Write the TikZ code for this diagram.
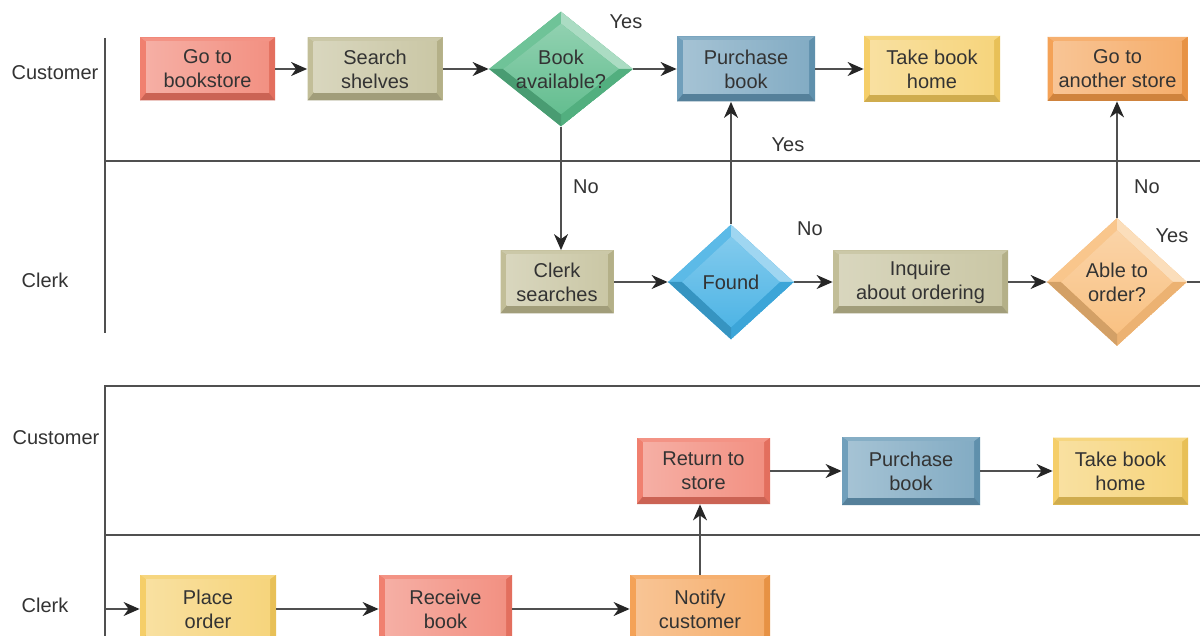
\documentclass[tikz,border=0pt]{standalone}
\usepackage{fontspec}
\setmainfont{Liberation Sans}
\usetikzlibrary{shapes.geometric,arrows.meta}
\definecolor{cSal}{HTML}{EF7563}
\definecolor{cKha}{HTML}{BDB98F}
\definecolor{cGrn}{HTML}{56B886}
\definecolor{cStl}{HTML}{6497B5}
\definecolor{cYel}{HTML}{F4CA5C}
\definecolor{cOrg}{HTML}{F39A48}
\definecolor{cSky}{HTML}{3FAEE3}
\definecolor{cLor}{HTML}{F8BC78}
\definecolor{cTxt}{HTML}{333333}
\definecolor{cLine}{HTML}{505050}
\newcommand{\boxfont}{\fontsize{10}{12}\selectfont}
\tikzset{
  bx/.style={rectangle, fill=#1, inner sep=0pt, align=center, font=\boxfont, text=cTxt,
    path picture={
      \coordinate (Q1) at (path picture bounding box.north west);
      \coordinate (Q2) at (path picture bounding box.north east);
      \coordinate (Q3) at (path picture bounding box.south east);
      \coordinate (Q4) at (path picture bounding box.south west);
      \coordinate (R1) at ([shift={(3pt,-2.2pt)}]Q1);
      \coordinate (R2) at ([shift={(-3pt,-2.2pt)}]Q2);
      \coordinate (R3) at ([shift={(-3pt,3.8pt)}]Q3);
      \coordinate (R4) at ([shift={(3pt,3.8pt)}]Q4);
      \fill[#1!78!white] (Q1)--(Q2)--(R2)--(R1)--cycle;
      \fill[#1!92!white] (Q1)--(R1)--(R4)--(Q4)--cycle;
      \fill[#1!95!black] (Q2)--(Q3)--(R3)--(R2)--cycle;
      \fill[#1!85!black] (Q4)--(R4)--(R3)--(Q3)--cycle;
      \shade[left color=#1!58!white, right color=#1!80!white] (R1) rectangle (R3);
    }},
  dm/.style={diamond, fill=#1, inner sep=0pt, align=center, font=\boxfont, text=cTxt,
    path picture={
      \coordinate (D1) at (path picture bounding box.north);
      \coordinate (D2) at (path picture bounding box.east);
      \coordinate (D3) at (path picture bounding box.south);
      \coordinate (D4) at (path picture bounding box.west);
      \coordinate (E1) at ([yshift=-6pt]D1);
      \coordinate (E2) at ([xshift=-7pt]D2);
      \coordinate (E3) at ([yshift=6pt]D3);
      \coordinate (E4) at ([xshift=7pt]D4);
      \fill[#1!85!white] (D4)--(D1)--(E1)--(E4)--cycle;
      \fill[#1!50!white] (D1)--(D2)--(E2)--(E1)--cycle;
      \fill[#1!95!black] (D2)--(D3)--(E3)--(E2)--cycle;
      \fill[#1!85!black] (D3)--(D4)--(E4)--(E3)--cycle;
      \shade[top color=#1!65!white, bottom color=#1!92!white] (E1)--(E2)--(E3)--(E4)--cycle;
    }},
  lab/.style={font=\fontsize{10}{12}\selectfont, text=cTxt, inner sep=1pt},
  lane/.style={draw=cLine, line width=0.7pt},
  arr/.style={draw=cLine, line width=0.7pt, -{Stealth[length=8pt,width=7pt,inset=2.5pt,color=black!85]}},
}
\begin{document}
\begin{tikzpicture}[x=0.5pt,y=-0.5pt]
\useasboundingbox[fill=white] (0,0) rectangle (1200,636);
\clip (0,0) rectangle (1200,636);

% lanes
\draw[lane] (105,38) -- (105,333);
\draw[lane] (105,161) -- (1200,161);
\draw[lane] (1200,386) -- (105,386) -- (105,640);
\draw[lane] (105,535) -- (1200,535);

\node[lab] (l1) at (55,73) {Customer};
\node[lab] (l2) at (45,280) {Clerk};
\node[lab] (l3) at (56,438) {Customer};
\node[lab] (l4) at (45,605) {Clerk};

% top diagram
\node[bx=cSal, minimum width=67.5pt, minimum height=31.5pt] (gb) at (207.5,69) {Go to\\bookstore};
\node[bx=cKha, minimum width=67.5pt, minimum height=31.5pt] (ss) at (375,69) {Search\\shelves};
\node[dm=cGrn, aspect=1.25, minimum width=72pt, minimum height=57.5pt] (ba) at (561,69) {Book\\available?};
\node[bx=cStl, minimum width=69pt, minimum height=32.5pt] (pb) at (746,69) {Purchase\\book};
\node[bx=cYel, minimum width=68pt, minimum height=33pt] (tb) at (932,69) {Take book\\home};
\node[bx=cOrg, minimum width=70pt, minimum height=32pt] (ga) at (1117.5,69) {Go to\\another store};

\node[bx=cKha, minimum width=56.5pt, minimum height=31.5pt] (cs) at (557,282) {Clerk\\searches};
\node[dm=cSky, aspect=1.1, minimum width=63pt, minimum height=57.5pt] (fd) at (731,282) {Found};
\node[bx=cKha, minimum width=87.5pt, minimum height=31.5pt] (iq) at (920.5,282) {Inquire\\about ordering};
\node[dm=cLor, aspect=1.1, minimum width=70pt, minimum height=64pt] (ao) at (1117,282) {Able to\\order?};
\coordinate (aoout) at (1210,282);

\draw[arr] (gb) -- (ss);
\draw[arr] (ss) -- (ba);
\draw[arr] (ba) -- (pb);
\draw[arr] (pb) -- (tb);
\draw[arr] (ba.south) -- (ba.south |- cs.north);
\draw[arr] (cs) -- (fd);
\draw[arr] (fd.north) -- (fd.north |- pb.south);
\draw[arr] (fd) -- (iq);
\draw[arr] (iq) -- (ao);
\draw[arr] (ao.north) -- (ao.north |- ga.south);
\draw[lane] (ao.east) -- (aoout);

\node[lab] (y1) at (626,22) {Yes};
\node[lab] (n1) at (586,187) {No};
\node[lab] (y2) at (788,145) {Yes};
\node[lab] (n2) at (810,229) {No};
\node[lab] (n3) at (1147,187) {No};
\node[lab] (y3) at (1172,236) {Yes};

% bottom diagram
\node[bx=cSal, minimum width=66.5pt, minimum height=33pt] (rs) at (703.5,471) {Return to\\store};
\node[bx=cStl, minimum width=69pt, minimum height=34pt] (pb2) at (911,471) {Purchase\\book};
\node[bx=cYel, minimum width=67.5pt, minimum height=33.5pt] (tb2) at (1120.5,471) {Take book\\home};

\node[bx=cYel, minimum width=68pt, minimum height=34pt] (po) at (208,609) {Place\\order};
\node[bx=cSal, minimum width=66.5pt, minimum height=34pt] (rb) at (445.5,609) {Receive\\book};
\node[bx=cOrg, minimum width=70pt, minimum height=34pt] (nc) at (700,609) {Notify\\customer};
\coordinate (pin) at (105,609);

\draw[arr] (pin) -- (po);
\draw[arr] (po) -- (rb);
\draw[arr] (rb) -- (nc);
\draw[arr] (nc.north) -- (nc.north |- rs.south);
\draw[arr] (rs) -- (pb2);
\draw[arr] (pb2) -- (tb2);
\end{tikzpicture}
\end{document}
